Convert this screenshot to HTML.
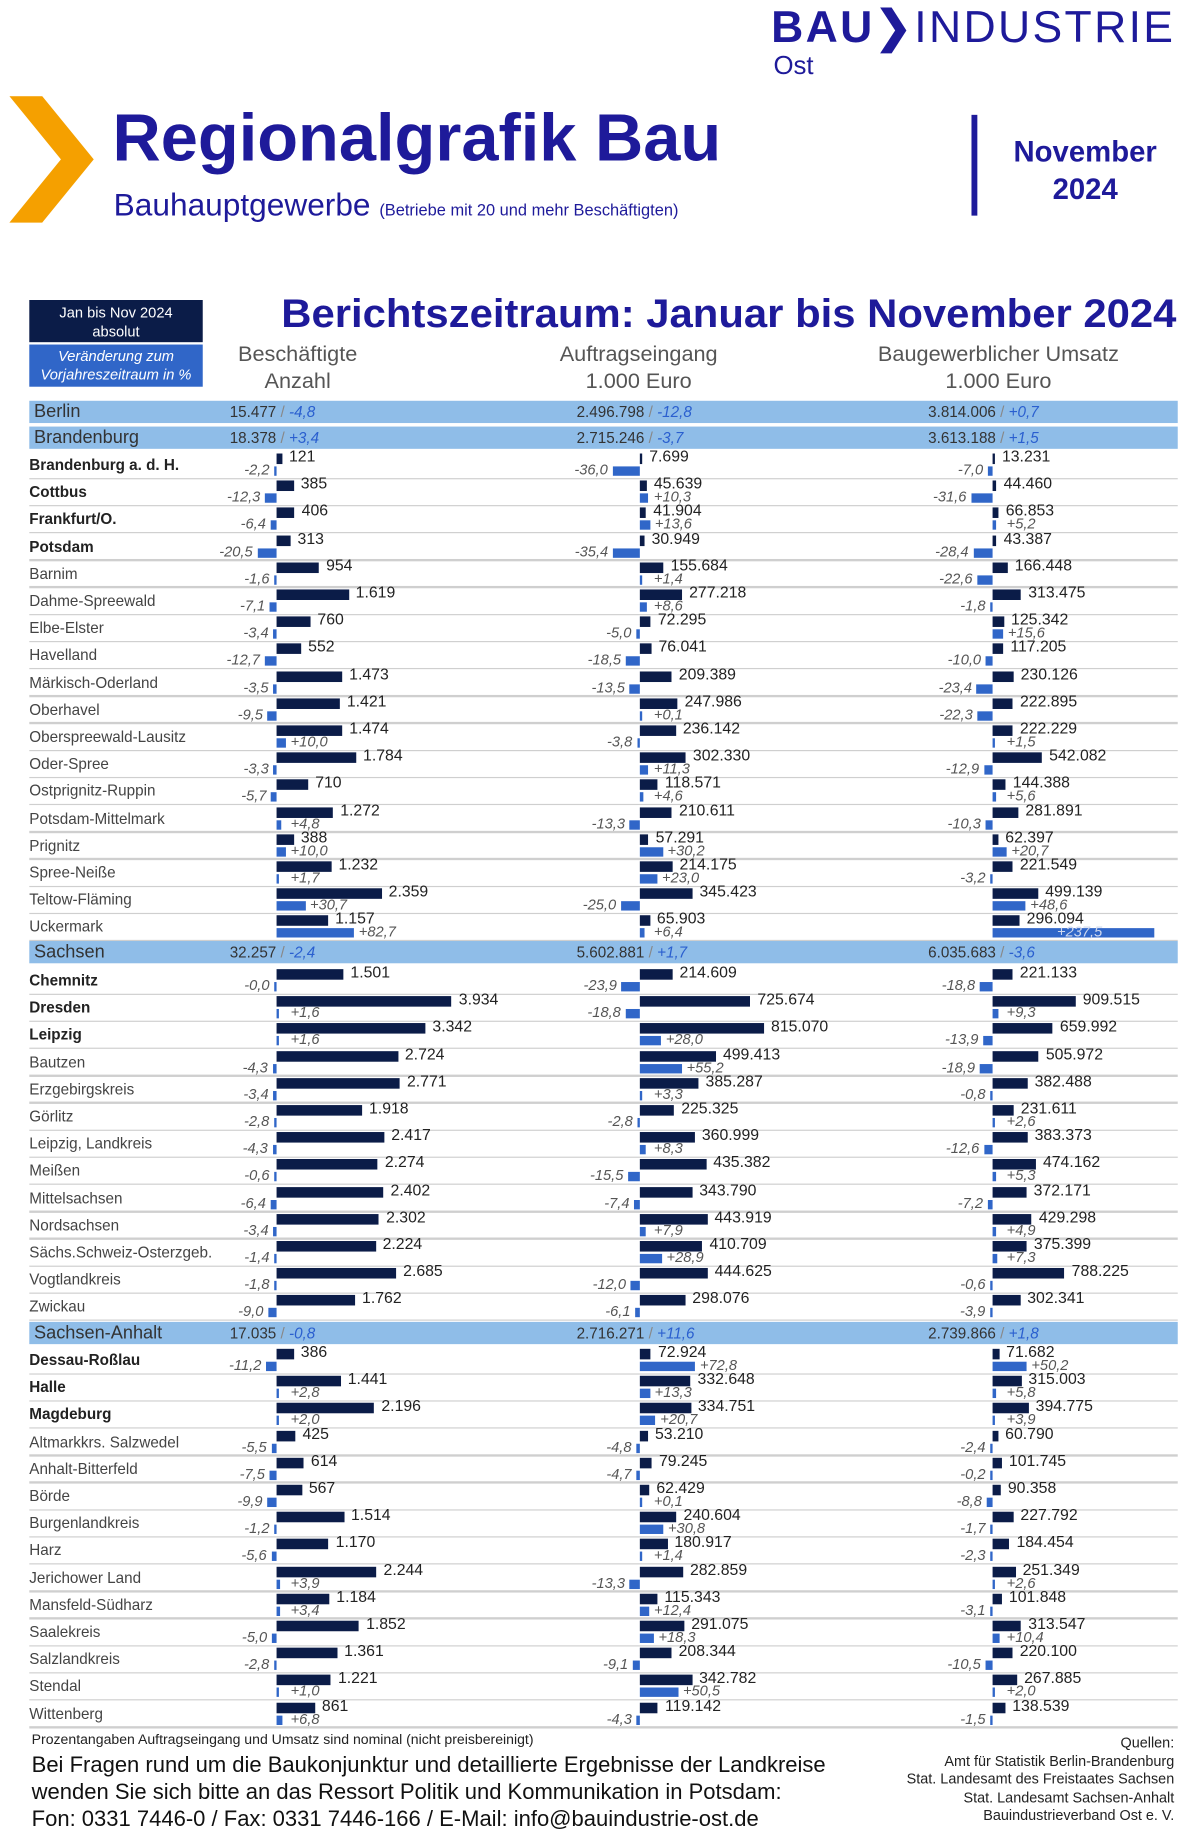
<!DOCTYPE html>
<html><head><meta charset="utf-8">
<style>
html,body{margin:0;padding:0;width:1200px;height:1845px;overflow:hidden;background:#fff;}
#w{position:absolute;left:0;top:0;width:1024px;height:1575px;transform:scale(1.171875);transform-origin:0 0;font-family:"Liberation Sans",sans-serif;}
.a{position:absolute;white-space:nowrap;}
.blue{color:#1e1a9a;}
</style></head><body><div id="w">
<div class="a blue" style="left:658px;top:1px;font-size:38px;font-weight:bold;letter-spacing:2px;">BAU<span>&#x276F;</span><span style="font-weight:normal">INDUSTRIE</span></div>
<div class="a blue" style="left:660px;top:43px;font-size:22px;">Ost</div>
<svg class="a" style="left:6px;top:82px" width="76" height="110"><polygon points="2,0 30,0 74,54 30,108 2,108 46,54" fill="#f5a000"/></svg>
<div class="a blue" style="left:96px;top:85px;font-size:57px;font-weight:bold;">Regionalgrafik Bau</div>
<div class="a blue" style="left:97px;top:160px;font-size:27px;">Bauhauptgewerbe <span style="font-size:14px">(Betriebe mit 20 und mehr Beschäftigten)</span></div>
<div class="a" style="left:829px;top:98px;width:5px;height:86px;background:#1e1a9a"></div>
<div class="a blue" style="left:846px;top:114px;width:160px;text-align:center;font-size:25px;font-weight:bold;line-height:32px;">November<br>2024</div>
<div class="a" style="left:25px;top:256px;width:148px;height:36px;background:#0b1c48;color:#fff;font-size:12.5px;text-align:center;line-height:16px;padding-top:3px;box-sizing:border-box;">Jan bis Nov 2024<br>absolut</div>
<div class="a" style="left:25px;top:294px;width:148px;height:36px;background:#3066c8;color:#fff;font-size:12.5px;font-style:italic;text-align:center;line-height:16px;padding-top:2px;box-sizing:border-box;">Veränderung zum<br>Vorjahreszeitraum in %</div>
<div class="a blue" style="left:240px;top:249px;font-size:34px;font-weight:bold;transform:scaleX(1.05);transform-origin:0 0;">Berichtszeitraum: Januar bis November 2024</div>
<div class="a" style="left:154px;top:290px;width:200px;text-align:center;font-size:18.5px;color:#555;line-height:23px">Beschäftigte<br>Anzahl</div>
<div class="a" style="left:425px;top:290px;width:240px;text-align:center;font-size:18.5px;color:#555;line-height:23px">Auftragseingang<br>1.000 Euro</div>
<div class="a" style="left:712px;top:290px;width:280px;text-align:center;font-size:18.5px;color:#555;line-height:23px">Baugewerblicher Umsatz<br>1.000 Euro</div>
<div id="rows"></div>
<div class="a" style="left:27px;top:1477px;font-size:12px;color:#222">Prozentangaben Auftragseingang und Umsatz sind nominal (nicht preisbereinigt)</div>
<div class="a" style="left:27px;top:1494px;font-size:18.8px;color:#111;line-height:23px">Bei Fragen rund um die Baukonjunktur und detaillierte Ergebnisse der Landkreise<br>wenden Sie sich bitte an das Ressort Politik und Kommunikation in Potsdam:<br>Fon: 0331 7446-0 / Fax: 0331 7446-166 / E-Mail: info@bauindustrie-ost.de</div>
<div class="a" style="left:702px;top:1480px;width:300px;text-align:right;font-size:12.3px;color:#222;line-height:15.5px">Quellen:<br>Amt für Statistik Berlin-Brandenburg<br>Stat. Landesamt des Freistaates Sachsen<br>Stat. Landesamt Sachsen-Anhalt<br>Bauindustrieverband Ost e. V.</div>
</div>
<script>
function f(n){return String(n).replace(/\B(?=(\d{3})+(?!\d))/g,'.');}
function p(v,s){var t=(Math.abs(v)).toFixed(1).replace('.',',');return (v<0||s==='-'?'-':'+')+t;}
var H=[];
function band(y,name,a,b,c){
H.push('<div class="a" style="left:25px;top:'+y+'px;width:980px;height:19px;background:#8fbde8"></div>');
H.push('<div class="a" style="left:29px;top:'+(y)+'px;font-size:15.5px;line-height:19px;color:#333">'+name+'</div>');
[[196,a],[492,b],[792,c]].forEach(function(q){H.push('<div class="a" style="left:'+q[0]+'px;top:'+y+'px;font-size:13px;line-height:19px;color:#333">'+q[1][0]+' <span style="color:#888">/</span> <i style="color:#2a5fcf">'+q[1][1]+'</i></div>');});
}
var AX=[236,546,847],SV=[0.038,0.00013,0.000078],SP=[0.8,0.65,0.58];
function row(y,r){
H.push('<div class="a" style="left:25px;top:'+(y+21.5)+'px;width:980px;height:1.5px;background:#cfcfcf"></div>');
H.push('<div class="a" style="left:25px;top:'+(y+3)+'px;font-size:13px;'+(r[1]?'font-weight:bold;color:#222;':'color:#444;')+'">'+r[0]+'</div>');
for(var i=0;i<3;i++){var v=r[2+i*2],pc=r[3+i*2],ax=AX[i];
var bw=Math.max(2,v*SV[i]);
H.push('<div class="a" style="left:'+ax+'px;top:'+(y+1)+'px;width:'+bw+'px;height:9px;background:#0b1c48"></div>');
H.push('<div class="a" style="left:'+(ax+bw+6)+'px;top:'+(y-4)+'px;font-size:13.5px;color:#222">'+f(v)+'</div>');
var pw=Math.max(2,Math.abs(pc)*SP[i]);
if(pc<0||r[10]&&r[10][i]){H.push('<div class="a" style="left:'+(ax-pw)+'px;top:'+(y+12)+'px;width:'+pw+'px;height:8px;background:#3066c8"></div>');
H.push('<div class="a" style="left:'+(ax-pw-64)+'px;width:60px;text-align:right;top:'+(y+8)+'px;font-size:12.5px;font-style:italic;color:#555">'+p(pc,'-')+'</div>');}
else{H.push('<div class="a" style="left:'+ax+'px;top:'+(y+12)+'px;width:'+pw+'px;height:8px;background:#3066c8"></div>');
var lx=pw>100?ax+55:ax+Math.max(pw,8)+4;
H.push('<div class="a" style="left:'+lx+'px;top:'+(y+8)+'px;font-size:12.5px;font-style:italic;color:'+(pw>100?'#cfd8ee':'#555')+'">'+p(pc)+'</div>');}
}}
var BB=[["Brandenburg a. d. H.",1,121,-2.2,7699,-36.0,13231,-7.0],["Cottbus",1,385,-12.3,45639,10.3,44460,-31.6],["Frankfurt/O.",1,406,-6.4,41904,13.6,66853,5.2],["Potsdam",1,313,-20.5,30949,-35.4,43387,-28.4],["Barnim",0,954,-1.6,155684,1.4,166448,-22.6],["Dahme-Spreewald",0,1619,-7.1,277218,8.6,313475,-1.8],["Elbe-Elster",0,760,-3.4,72295,-5.0,125342,15.6],["Havelland",0,552,-12.7,76041,-18.5,117205,-10.0],["Märkisch-Oderland",0,1473,-3.5,209389,-13.5,230126,-23.4],["Oberhavel",0,1421,-9.5,247986,0.1,222895,-22.3],["Oberspreewald-Lausitz",0,1474,10.0,236142,-3.8,222229,1.5],["Oder-Spree",0,1784,-3.3,302330,11.3,542082,-12.9],["Ostprignitz-Ruppin",0,710,-5.7,118571,4.6,144388,5.6],["Potsdam-Mittelmark",0,1272,4.8,210611,-13.3,281891,-10.3],["Prignitz",0,388,10.0,57291,30.2,62397,20.7],["Spree-Neiße",0,1232,1.7,214175,23.0,221549,-3.2],["Teltow-Fläming",0,2359,30.7,345423,-25.0,499139,48.6],["Uckermark",0,1157,82.7,65903,6.4,296094,237.5]];
var SN=[["Chemnitz",1,1501,0,214609,-23.9,221133,-18.8,0,0,[1,0,0]],["Dresden",1,3934,1.6,725674,-18.8,909515,9.3],["Leipzig",1,3342,1.6,815070,28.0,659992,-13.9],["Bautzen",0,2724,-4.3,499413,55.2,505972,-18.9],["Erzgebirgskreis",0,2771,-3.4,385287,3.3,382488,-0.8],["Görlitz",0,1918,-2.8,225325,-2.8,231611,2.6],["Leipzig, Landkreis",0,2417,-4.3,360999,8.3,383373,-12.6],["Meißen",0,2274,-0.6,435382,-15.5,474162,5.3],["Mittelsachsen",0,2402,-6.4,343790,-7.4,372171,-7.2],["Nordsachsen",0,2302,-3.4,443919,7.9,429298,4.9],["Sächs.Schweiz-Osterzgeb.",0,2224,-1.4,410709,28.9,375399,7.3],["Vogtlandkreis",0,2685,-1.8,444625,-12.0,788225,-0.6],["Zwickau",0,1762,-9.0,298076,-6.1,302341,-3.9]];
var SA=[["Dessau-Roßlau",1,386,-11.2,72924,72.8,71682,50.2],["Halle",1,1441,2.8,332648,13.3,315003,5.8],["Magdeburg",1,2196,2.0,334751,20.7,394775,3.9],["Altmarkkrs. Salzwedel",0,425,-5.5,53210,-4.8,60790,-2.4],["Anhalt-Bitterfeld",0,614,-7.5,79245,-4.7,101745,-0.2],["Börde",0,567,-9.9,62429,0.1,90358,-8.8],["Burgenlandkreis",0,1514,-1.2,240604,30.8,227792,-1.7],["Harz",0,1170,-5.6,180917,1.4,184454,-2.3],["Jerichower Land",0,2244,3.9,282859,-13.3,251349,2.6],["Mansfeld-Südharz",0,1184,3.4,115343,12.4,101848,-3.1],["Saalekreis",0,1852,-5.0,291075,18.3,313547,10.4],["Salzlandkreis",0,1361,-2.8,208344,-9.1,220100,-10.5],["Stendal",0,1221,1.0,342782,50.5,267885,2.0],["Wittenberg",0,861,6.8,119142,-4.3,138539,-1.5]];
band(342,"Berlin",["15.477","-4,8"],["2.496.798","-12,8"],["3.814.006","+0,7"]);
band(364,"Brandenburg",["18.378","+3,4"],["2.715.246","-3,7"],["3.613.188","+1,5"]);
var y=386;BB.forEach(function(r){row(y,r);y+=23.2;});
band(803,"Sachsen",["32.257","-2,4"],["5.602.881","+1,7"],["6.035.683","-3,6"]);
y=826;SN.forEach(function(r){row(y,r);y+=23.2;});
band(1128,"Sachsen-Anhalt",["17.035","-0,8"],["2.716.271","+11,6"],["2.739.866","+1,8"]);
y=1150;SA.forEach(function(r){row(y,r);y+=23.2;});
document.getElementById('rows').innerHTML=H.join('');
</script>
</body></html>
